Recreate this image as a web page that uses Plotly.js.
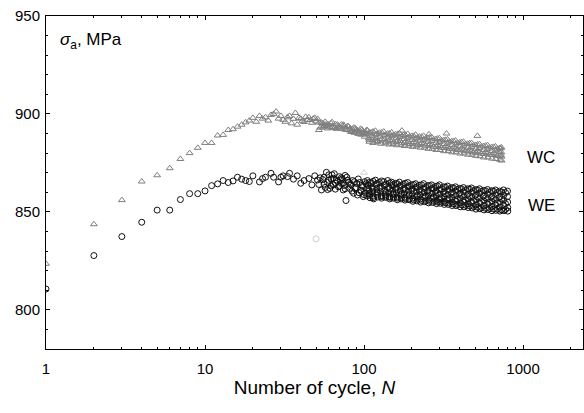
<!DOCTYPE html>
<html>
<head>
<meta charset="utf-8">
<script src="https://cdn.plot.ly/plotly-3.0.1.min.js"></script>
<style>html,body{margin:0;padding:0;background:#fff;}#chart{width:584px;height:413px;}</style>
</head>
<body>
<div id="chart"></div>
<script>
// WC series (triangles): cycle number and stress amplitude (MPa)
const wcN = [1,2,3,4,5,6,7,8,9,10,11,12,13,14,15,16,17,18,19,20,21,22,23,24,25,26,27,28,29,30,31,32,33,34,35,36,37,38,39,40,41,42,43,44,45,46,47,48,49,50,51,52,53,54,55,56,57,58,59,60,62,63,64,66,67,69,71,72,74,76,77,80,81,84,86,88,90,93,95,97,99,102,104,
  105,106,107,108,111,112,113,114,118,119,120,121,125,126,127,128,133,134,135,136,141,142,143,144,149,150,151,152,158,159,160,161,167,168,169,170,173,177,178,179,180,188,189,190,191,199,200,201,202,211,212,213,214,223,224,225,226,237,238,239,240,251,252,253,254,256,266,267,268,269,282,283,284,285,298,299,300,301,316,317,318,319,330,335,336,337,338,355,356,357,358,376,377,378,379,399,400,401,402,422,423,424,425,448,449,450,451,474,475,476,477,502,503,504,505,516,532,533,534,535,564,565,566,567,598,599,600,601,634,635,636,637,671,672,673,674,712,713,714,715,730,731,732,733];
const wcV = [823.5,843.7,856,865.5,868.7,872.3,877,880,882.7,885.2,885.2,889,889.3,891.8,892.2,893.5,894.5,895.7,896.6,898,896,899,897.6,898.3,896.6,899.5,900,901.2,897.6,899,897,896,898.3,899,895.2,897.5,900.5,894.5,898,897.6,896.5,895.9,898.5,897,898.3,896.9,895.5,897.6,898,896.2,897.5,891.8,893,895.5,895.2,893.8,894.6,894,892.6,894.5,895.3,893,893.5,894.8,892.4,894,892.7,894.6,894.5,892,893.2,893.5,891.6,891.3,893,892.7,890.5,890.6,892.4,892,889.6,889.9,891.8,
  891.6,889.5,887.6,885.8, 890.6,888.6,886.6,885.2, 891.4,889.4,887.4,885.6, 890.4,888.4,886.4,884.8, 891,889,887,885, 890,888,886,884.4, 890.6,888.6,886.6,884.6, 889.6,887.6,885.6,884, 890.2,888.2,886.2,884.2, 891.5, 889.2,887.2,885.2,883.6, 889.8,887.8,885.8,883.8, 888.8,886.8,884.8,883.2, 889.4,887.4,885.4,883.4, 888.4,886.4,884.4,882.8, 888.8,886.8,884.8,882.8, 887.8,885.8,883.8,882.2, 889.6, 888.2,886.2,884.2,882.2, 887.2,885.2,883.2,881.6, 887.6,885.6,883.6,881.6, 886.6,884.6,882.6,881, 890, 887,885,883,881, 886,884,882,880.4, 886.4,884.4,882.4,880.4, 885.4,883.4,881.4,879.8, 885.8,883.8,881.8,879.8, 884.8,882.8,880.8,879.2, 885.2,883.2,881.2,879.2, 884.2,882.2,880.2,878.6, 888.8, 884.6,882.6,880.6,878.4, 883.6,881.6,879.6,877.8, 884,882,880,877.8, 883,881,879,877.2, 883.4,881.4,879.4,877, 882.6,880.6,878.6,876.6, 883,880.4,878.2,876.2];
// WC additional readings inside the dense band
const wcMidN = [52,55,57,59,61,63,65,68,70,73,75,78,79,82,83,85,87,89,91,92,94,96,98,100,101,103,
  108,108,114,114,121,121,129,129,137,137,145,145,153,153,162,162,172,172,182,182,193,193,205,205,217,217,230,230,244,244,258,258,274,274,290,290,307,307,325,325,345,345,365,365,387,387,410,410,435,435,461,461,488,488,517,517,548,548,581,581,616,616,652,652,691,691,725,725];
const wcMidV = [895.6,893.2,896,894.8,893.2,895.8,892.8,894.6,893.4,892.4,894,891.8,893.8,892.6,890.8,892.2,890.4,892,891.6,889.8,891.4,889.4,891.2,890.2,888.4,890.6,
  890.4,886.8,891,887.8,889.8,886.2,890.6,887.2,889.4,885.8,890,886.8,889.2,885.4,889.6,886.4,888.6,885,889.2,886,888.4,884.6,888.8,885.6,887.8,884.2,888.4,885.2,887.4,883.8,888,884.6,887,883.2,887.4,884.2,886.4,882.8,886.8,883.6,885.8,882.2,886.2,883,885.2,881.6,885.6,882.4,884.6,881,885,881.8,884,880.4,884.4,881.2,883.4,879.8,883.8,880.6,882.8,879.2,883.2,880,882.2,878.6,882.4,879.2];

// WE series (circles)
const weN = [1,2,3,4,5,6,7,8,9,10,11,12,13,14,15,16,17,18,19,20,22,23,24,26,27,29,30,31,33,34,36,38,40,42,45,47,49,51,52,54,55,56,57,58,59,60,61,62,63,64,65,66,67,69,70,71,72,73,74,75,76,77,78,80,81,83,85,86,88,90,92,93,95,97,99,101,102,104,
  105,106,107,108,109, 111,112,113,114,115, 118,119,120,121,122, 125,126,127,128,129, 133,134,135,136,137, 141,142,143,144,145, 149,150,151,152,153, 158,159,160,161,162, 167,168,169,170,171, 177,178,179,180,181, 188,189,190,191,192, 199,200,201,202,203, 211,212,213,214,215, 223,224,225,226,227, 237,238,239,240,241, 251,252,253,254,255, 266,267,268,269,270, 282,283,284,285,286, 298,299,300,301,302, 316,317,318,319,320, 335,336,337,338,339, 355,356,357,358,359, 376,377,378,379,380, 399,400,401,402,403, 422,423,424,425,426, 448,449,450,451,452, 474,475,476,477,478, 502,503,504,505,506, 532,533,534,535,536, 564,565,566,567,568, 598,599,600,601,602, 634,635,636,637,638, 671,672,673,674,675, 712,713,714,715,716, 754,755,756,757,758, 798,799,800,801,802];
const weV = [810.6,827.7,837.4,844.7,850.9,850.9,856.3,859.3,859.3,860.7,863.4,864.3,866,865,865.8,867.7,866.7,866,865.5,868.4,865.3,867,867.7,869.7,867.7,865.3,867.7,868.4,868,869.7,866.7,868.4,864.6,866,867,863.8,868.4,866.3,864,861.2,866.5,867.7,862.5,870.2,865,868.9,862,866.8,868.9,863.8,869.5,864.6,866.3,862.8,868,866.3,864.5,866.8,861.2,863.5,868.6,855.8,867.7,865.2,862,863.8,866,859.5,861.8,864.6,866.8,859.8,861.2,863.6,857.8,865.4,859.6,862.1,
  866,863.6,861.4,859.2,857.2, 864.8,862.4,860.2,858,856.6, 866.2,864,861.8,859.6,857.6, 865,862.6,860.4,858.2,857, 865.4,863.4,861,858.8,857.4, 866,862.4,860,857.8,856.6, 865.2,863.4,861.2,859,857, 864.6,862.2,859.8,857.6,856.2, 865.2,863,860.8,858.6,856.6, 864.2,861.8,859.6,857.4,856, 865,862.8,860.6,858.2,856.2, 863.8,861.6,859.2,857,855.4, 864.4,862.4,860.2,857.8,855.6, 863.6,861.2,858.8,856.6,855, 864.4,862,859.8,857.4,855.2, 863.4,860.8,858.6,856.2,854.6, 863.8,861.8,859.4,857,854.8, 863,860.6,858.2,855.8,854.2, 863.8,861.4,859,856.6,854.4, 862.8,860.2,857.8,855.4,853.8, 863.2,861,858.6,856.2,853.8, 862.4,859.8,857.4,855,853.2, 862.8,860.6,858.2,855.6,853.2, 862,859.4,857,854.6,852.6, 862.4,860.2,857.8,855.2,852.6, 861.8,859,856.6,854.2,852.2, 862.2,859.8,857.4,854.8,852, 861.4,858.6,856.2,853.6,851.4, 861.8,859.4,857,854.4,851.6, 861,858.2,855.8,853.2,851, 861.4,859,856.6,854,851.2, 860.8,857.8,855.4,852.8,850.6, 861.2,858.6,856.2,853.6,850.8, 860.6,857.6,855,852.4,850.4, 861.2,858.4,856,853.2,850.6, 860.6,857.8,855,852.2,850.4];
// WE additional readings inside the dense band
const weMidN = [53,56,59,60,62,64,66,68,70,72,74,76,79,82,84,87,89,91,94,96,98,100,103,104,
  108,108,108,114,114,114,121,121,121,129,129,129,137,137,137,145,145,145,153,153,153,162,162,162,172,172,172,182,182,182,193,193,193,205,205,205,217,217,217,230,230,230,244,244,244,258,258,258,274,274,274,290,290,290,307,307,307,325,325,325,345,345,345,365,365,365,387,387,387,410,410,410,435,435,435,461,461,461,488,488,488,517,517,517,548,548,548,581,581,581,616,616,616,652,652,652,691,691,691,733,733,733,776,776,776];
const weMidV = [867.4,864.2,861.4,866.2,863.2,867.2,861.6,865.6,863.2,867.4,864.8,861.8,866.2,864.4,860.6,865.4,862.4,858.6,865,860.4,863,858.8,864.4,858.2,
  865,860.8,858.4, 865.6,861.6,857.2, 864.6,860.2,858.6, 865.8,862,857.8, 864.2,859.8,858, 864.8,861.8,857.4, 863.8,859.4,857.6, 864.4,861.4,857, 863.6,859.2,857.2, 864.6,861.2,856.8, 863.2,858.8,856.8, 864,860.6,856.2, 862.8,858.4,856.4, 863.8,860.2,855.8, 862.6,858,855.8, 863.4,859.8,855.4, 862.2,857.6,855.4, 863.2,859.6,855, 861.8,857.2,855, 862.6,859.2,854.6, 861.6,856.8,854.4, 862.2,858.8,854, 861.4,856.4,853.8, 861.8,858.4,853.6, 861,856,853.4, 861.6,858,853, 860.6,855.6,852.8, 861.2,857.6,852.4, 860.4,855.2,852.2, 860.8,857.2,851.8, 860,854.8,851.8, 860.6,856.8,851.4, 859.8,854.6,851.4, 860.2,856.6,851, 859.8,854.2,851.2];

// faint (light grey) points
const wcFaintN = [100];
const wcFaintV = [870];
const weFaintN = [50];
const weFaintV = [836.2];

const xTicks = [1,10,100,1000];
const xTickText = ['1','10','100','1000'];
const yTicks = [800,850,900,950];

const font = 'Liberation Sans, Arial, sans-serif';

const traces = [
  {x: wcN.concat(wcMidN), y: wcV.concat(wcMidV), type: 'scatter', mode: 'markers', name: 'WC',
   marker: {symbol: 'triangle-up-open', size: 6, color: '#7f7f7f', line: {width: 1, color: '#7f7f7f'}}},
  {x: weN.concat(weMidN), y: weV.concat(weMidV), type: 'scatter', mode: 'markers', name: 'WE',
   marker: {symbol: 'circle-open', size: 6, color: '#111', line: {width: 1, color: '#111'}}},
  {x: wcFaintN, y: wcFaintV, type: 'scatter', mode: 'markers',
   marker: {symbol: 'triangle-up-open', size: 6, color: '#cfcfcf', line: {width: 1, color: '#cfcfcf'}}},
  {x: weFaintN, y: weFaintV, type: 'scatter', mode: 'markers',
   marker: {symbol: 'circle-open', size: 6, color: '#cfcfcf', line: {width: 1, color: '#cfcfcf'}}}
];

const layout = {
  width: 584, height: 413,
  margin: {l: 46, r: 1, t: 16, b: 64},
  paper_bgcolor: '#fff', plot_bgcolor: '#fff',
  showlegend: false,
  font: {family: font, size: 15, color: '#000'},
  xaxis: {
    type: 'log', range: [0, 3.377],
    tickvals: xTicks, ticktext: xTickText,
    ticks: 'inside', ticklen: 4, tickcolor: '#000',
    minor: {ticks: 'inside', ticklen: 2, dtick: 'D1', tickcolor: '#000'},
    showline: true, linecolor: '#000', linewidth: 1, mirror: 'ticks',
    showgrid: false, zeroline: false,
    tickfont: {family: font, size: 15, color: '#000'},
    ticklabelstandoff: 6,
    title: {text: 'Number of cycle, <i>N</i>', font: {family: font, size: 19, color: '#000'}, standoff: 2}
  },
  yaxis: {
    range: [780, 950],
    tickvals: yTicks,
    ticks: 'inside', ticklen: 4, tickcolor: '#000',
    minor: {ticks: 'inside', ticklen: 2, dtick: 10, tick0: 800, tickcolor: '#000'},
    showline: true, linecolor: '#000', linewidth: 1, mirror: 'ticks',
    showgrid: false, zeroline: false,
    tickfont: {family: font, size: 15, color: '#000'},
    ticklabelstandoff: 2
  },
  annotations: [
    {xref: 'paper', yref: 'paper', x: 0.022, y: 0.925, xanchor: 'left', yanchor: 'middle',
     text: '<i>σ</i><sub>a</sub>, MPa', showarrow: false, font: {family: font, size: 17, color: '#000'}},
    {xref: 'x', yref: 'y', x: Math.log10(1300), y: 878, xanchor: 'center', yanchor: 'middle',
     text: 'WC', showarrow: false, font: {family: font, size: 17, color: '#000'}},
    {xref: 'x', yref: 'y', x: Math.log10(1300), y: 853.5, xanchor: 'center', yanchor: 'middle',
     text: 'WE', showarrow: false, font: {family: font, size: 17, color: '#000'}}
  ]
};

Plotly.newPlot('chart', traces, layout, {displayModeBar: false, staticPlot: true});
</script>
</body>
</html>
